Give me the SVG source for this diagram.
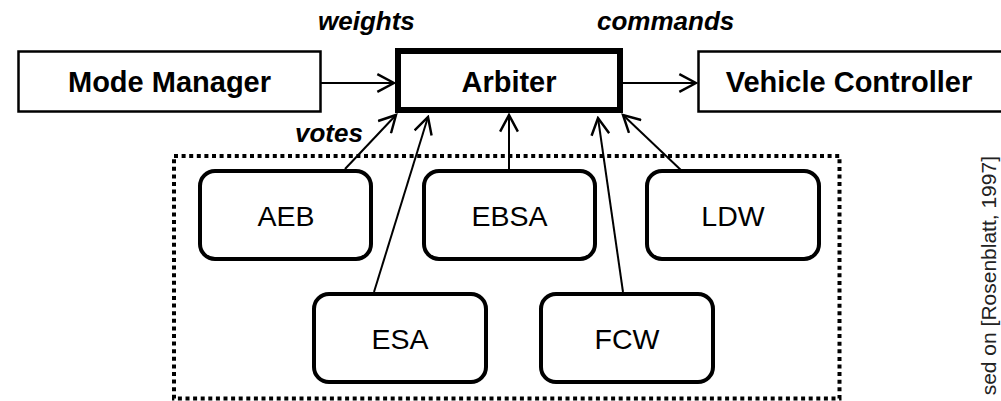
<svg xmlns="http://www.w3.org/2000/svg" width="1001" height="401" viewBox="0 0 1001 401">
  <defs>
    <!-- open chevron arrowhead -->
    <marker id="arrow" markerUnits="userSpaceOnUse" markerWidth="20" markerHeight="20" viewBox="-16 -9 18 18" refX="0" refY="0" orient="auto">
      <path d="M-15,-8 L0,0 L-15,8" fill="none" stroke="#000" stroke-width="2.2" stroke-linejoin="miter"/>
    </marker>
    <style>
      .box { fill: #fff; stroke: #000; stroke-width: 2.5; }
      .hub { fill: #fff; stroke: #000; stroke-width: 6; }
      .agent { fill: #fff; stroke: #000; stroke-width: 4; }
      .group { fill: none; stroke: #000; stroke-width: 4; stroke-dasharray: 4 3.6; }
      .title { font-family: "Liberation Sans", Arial, sans-serif; font-weight: bold; font-size: 29px; text-anchor: middle; fill: #000; }
      .name { font-family: "Liberation Sans", Arial, sans-serif; font-size: 28.5px; text-anchor: middle; fill: #000; }
      .label { font-family: "Liberation Sans", Arial, sans-serif; font-weight: bold; font-style: italic; font-size: 26px; fill: #000; }
      .note { font-family: "Liberation Sans", Arial, sans-serif; font-size: 21px; fill: #222; }
      .link { fill: none; stroke: #000; stroke-width: 2; marker-end: url(#arrow); }
    </style>
  </defs>

  <!-- dotted boundary around the behaviour modules -->
  <rect class="group" x="174" y="156" width="665.5" height="242.5"/>

  <!-- connectors -->
  <g id="connectors">
    <line class="link" x1="321" y1="83" x2="394" y2="83"/>
    <line class="link" x1="623" y1="83" x2="696" y2="83"/>
    <line class="link" x1="345" y1="169" x2="396" y2="115"/>
    <line class="link" x1="374" y1="292" x2="428" y2="117"/>
    <line class="link" x1="509" y1="169" x2="509" y2="115"/>
    <line class="link" x1="623" y1="292" x2="598" y2="118"/>
    <line class="link" x1="683" y1="172" x2="623" y2="115"/>
  </g>

  <!-- connector labels -->
  <text class="label" x="318" y="30">weights</text>
  <text class="label" x="597" y="30">commands</text>
  <text class="label" x="295" y="142">votes</text>

  <g id="mode-manager">
    <rect class="box" x="18.5" y="51.5" width="302" height="60"/>
    <text class="title" x="169.5" y="92">Mode Manager</text>
  </g>

  <g id="arbiter">
    <rect class="hub" x="398" y="51" width="222" height="59"/>
    <text class="title" x="509" y="92">Arbiter</text>
  </g>

  <g id="vehicle-controller">
    <rect class="box" x="698.5" y="51.5" width="304" height="60"/>
    <text class="title" x="849" y="92">Vehicle Controller</text>
  </g>

  <g id="aeb">
    <rect class="agent" x="200" y="171" width="171" height="88" rx="15"/>
    <text class="name" x="286" y="226">AEB</text>
  </g>

  <g id="ebsa">
    <rect class="agent" x="424" y="171" width="171" height="88" rx="15"/>
    <text class="name" x="509.5" y="226">EBSA</text>
  </g>

  <g id="ldw">
    <rect class="agent" x="647" y="171" width="172" height="88" rx="15"/>
    <text class="name" x="733" y="226">LDW</text>
  </g>

  <g id="esa">
    <rect class="agent" x="314" y="294" width="172" height="88" rx="15"/>
    <text class="name" x="400" y="349">ESA</text>
  </g>

  <g id="fcw">
    <rect class="agent" x="541" y="294" width="172" height="88" rx="15"/>
    <text class="name" x="627" y="349">FCW</text>
  </g>

  <!-- source note, running up the right margin -->
  <text class="note" transform="translate(996 156) rotate(-90)" text-anchor="end">sed on [Rosenblatt, 1997]</text>
</svg>
